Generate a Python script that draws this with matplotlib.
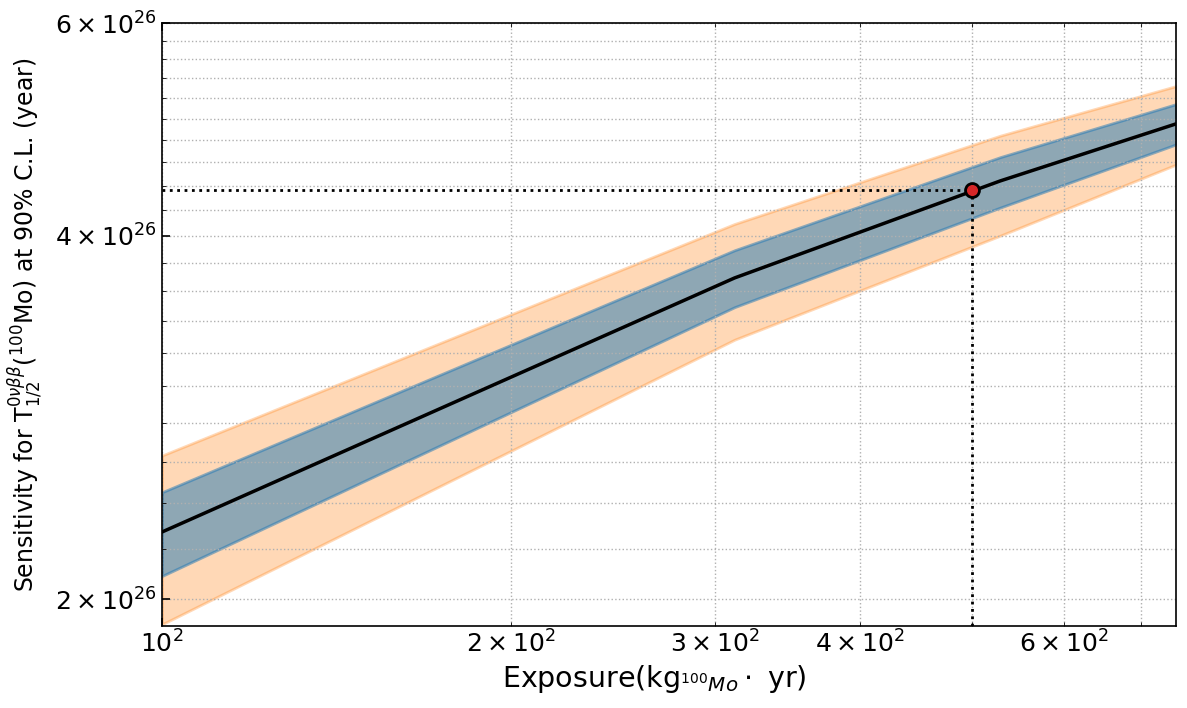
import numpy as np
import matplotlib
matplotlib.use("Agg")
import matplotlib.pyplot as plt
from matplotlib.ticker import FixedLocator, NullFormatter, LogFormatterSciNotation

# exposure (kg_100Mo * yr)
exposure = [100, 312, 529, 750]
# sensitivity (units of 1e26 yr)
median = [2.273, 3.69, 4.44, 4.95]
band1_lo = [2.09, 3.49, 4.22, 4.76]
band1_hi = [2.452, 3.89, 4.646, 5.14]
band2_lo = [1.906, 3.28, 4.00, 4.58]
band2_hi = [2.63, 4.09, 4.84, 5.32]
point_x = 500
point_y = 4.364
y_major = [2, 4, 6]

scale = 1e26
ex = np.array(exposure)

plt.rcParams['mathtext.fontset'] = 'dejavusans'
fig = plt.figure(figsize=(11.87, 7.08), dpi=100)
ax = fig.add_axes([162/1187, 1-626/708, (1176-162)/1187, (626-23)/708])

ax.fill_between(ex, np.array(band2_lo)*scale, np.array(band2_hi)*scale,
                color='#ff7f0e', alpha=0.3, lw=2)
ax.fill_between(ex, np.array(band1_lo)*scale, np.array(band1_hi)*scale,
                color='#1f77b4', alpha=0.5, lw=2)
ax.plot(ex, np.array(median)*scale, color='black', lw=2.5, zorder=4)

ax.set_xscale('log')
ax.set_yscale('log')
ax.set_xlim(100, 750)
ax.set_ylim(1.9e26, 6e26)

ax.yaxis.set_major_locator(FixedLocator([v*scale for v in y_major]))
ax.yaxis.set_major_formatter(LogFormatterSciNotation(labelOnlyBase=False))
ax.yaxis.set_minor_locator(FixedLocator(np.arange(2.2, 6.0, 0.2)*scale))
ax.yaxis.set_minor_formatter(NullFormatter())

ax.plot([point_x, point_x], [1.9e26, point_y*scale], ls=':', color='black', lw=2, zorder=5)
ax.plot([100, point_x], [point_y*scale, point_y*scale], ls=':', color='black', lw=2, zorder=5)
ax.plot([point_x], [point_y*scale], 'o', ms=10, mfc='#d62728', mec='black', mew=2, zorder=6)

ax.grid(True, which='both', ls=':', color='#b0b0b0', lw=1)
ax.tick_params(which='both', direction='in', top=True, right=False, labelsize=18)
ax.tick_params(which='major', length=6, width=1.2)
ax.tick_params(which='minor', length=3)
for s in ax.spines.values():
    s.set_linewidth(1.2)

ax.set_xlabel(r'Exposure(kg$_{^{100}Mo}\cdot$ yr)', fontsize=20.5)
ax.xaxis.set_label_coords(0.486, -0.062)
ax.set_ylabel(r'Sensitivity for T$^{0\nu\beta\beta}_{1/2}$($^{100}$Mo) at 90% C.L. (year)', fontsize=17, labelpad=8)

fig.savefig('out.png', dpi=100)
